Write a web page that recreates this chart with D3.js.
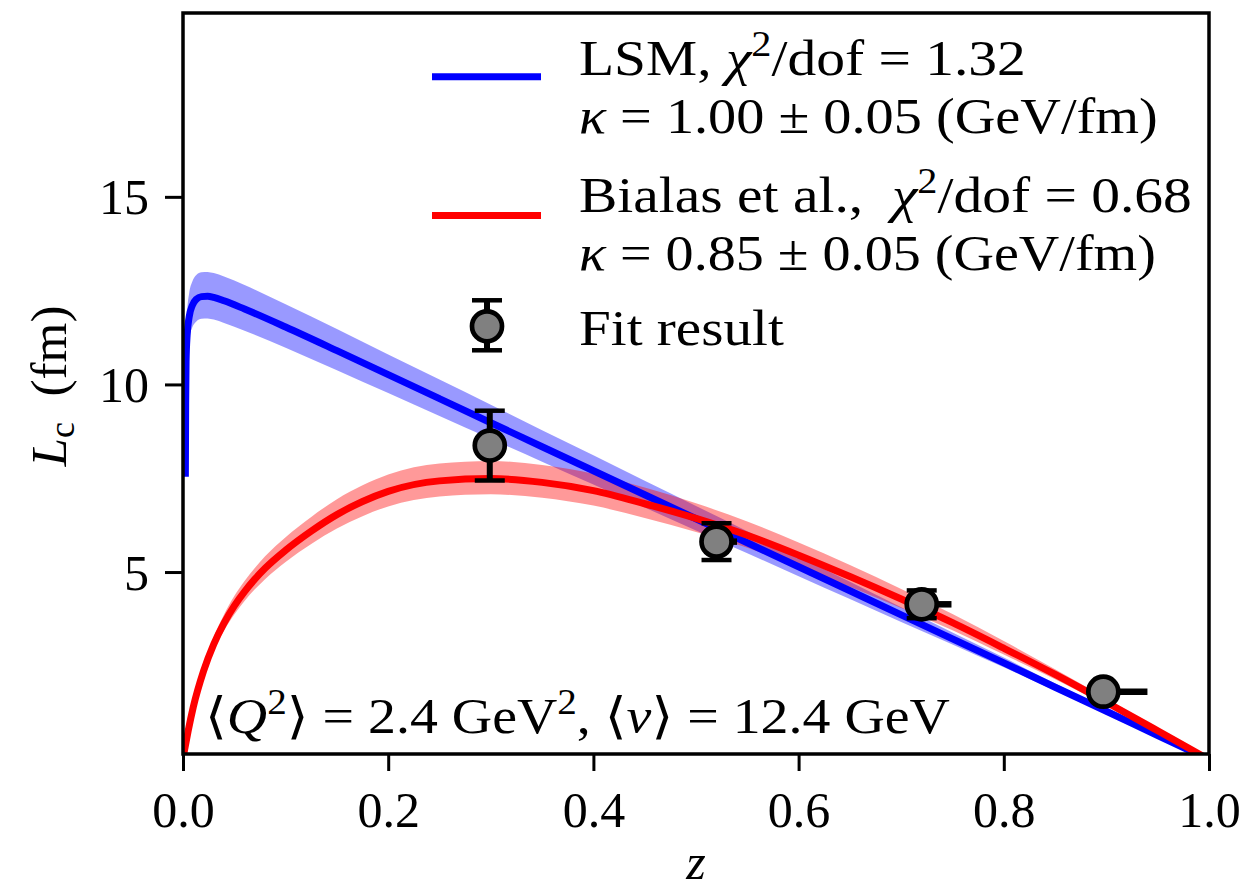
<!DOCTYPE html>
<html><head><meta charset="utf-8">
<script src="https://cdn.jsdelivr.net/npm/d3@7"></script>
<style>
html,body{margin:0;padding:0;background:#fff;}
text{font-family:"Liberation Serif","DejaVu Serif",serif;white-space:pre;}
</style></head>
<body>
<svg id="chart" width="1244" height="892"></svg>
<script>
// ---- data ----
const redZ  = [0,0.001,0.002,0.005,0.01,0.02,0.03,0.04,0.05,0.06,0.07,0.08,0.1,0.125,0.15,0.175,0.2,0.25,0.3,0.35,0.4,0.45,0.5,0.55,0.6,0.65,0.7,0.75,0.8,0.85,0.9,0.95,0.98,1.0];
const redL  = [0,0.18,0.33,0.76,1.40,2.36,3.08,3.64,4.10,4.48,4.81,5.10,5.58,6.09,6.53,6.88,7.15,7.43,7.49,7.39,7.17,6.82,6.43,5.98,5.45,4.88,4.28,3.65,2.97,2.27,1.53,0.77,0.31,0];
const redHi = [0,0.19,0.35,0.81,1.49,2.51,3.27,3.87,4.36,4.76,5.11,5.42,5.93,6.47,6.94,7.31,7.60,7.89,7.96,7.85,7.62,7.25,6.83,6.35,5.79,5.19,4.55,3.88,3.16,2.41,1.63,0.82,0.33,0];
const redLo = [0,0.17,0.31,0.72,1.32,2.23,2.91,3.44,3.87,4.23,4.54,4.81,5.27,5.75,6.16,6.49,6.75,7.01,7.07,6.98,6.77,6.44,6.07,5.65,5.14,4.61,4.04,3.45,2.80,2.14,1.44,0.73,0.29,0];

const blueZ  = [0.0023,0.0026,0.003,0.004,0.006,0.009,0.013,0.018,0.024,0.03,0.04,0.06,0.1,0.15,0.2,0.25,0.3,0.35,0.4,0.45,0.5,0.55,0.6,0.65,0.7,0.75,0.8,0.85,0.9,0.95,1.0];
const blueL  = [7.54,9.5,10.6,11.3,11.8,12.1,12.27,12.34,12.35,12.32,12.23,12.01,11.53,10.90,10.26,9.62,8.98,8.34,7.70,7.06,6.42,5.78,5.14,4.50,3.86,3.22,2.58,1.93,1.29,0.64,0];
const blueHi = [7.94,10.00,11.16,11.90,12.43,12.74,12.92,12.99,13.00,12.97,12.88,12.65,12.14,11.48,10.80,10.13,9.46,8.78,8.11,7.43,6.76,6.09,5.41,4.74,4.06,3.39,2.72,2.03,1.36,0.67,0];
const blueLo = [7.18,9.04,10.09,10.76,11.23,11.52,11.68,11.75,11.76,11.73,11.64,11.43,10.98,10.38,9.77,9.16,8.55,7.94,7.33,6.72,6.11,5.50,4.89,4.28,3.67,3.07,2.46,1.84,1.23,0.61,0];

const fitZ     = [0.299,0.520,0.720,0.897];
const fitL     = [8.37,5.81,4.14,1.81];
const fitYerr  = [0.93,0.49,0.37,0.10];
const fitXerrHi= [0,0.02,0.029,0.043];

const xTicks = [0,0.2,0.4,0.6,0.8,1.0];
const yTicks = [5,10,15];

// ---- layout ----
const svg = d3.select("#chart");
const L0=183, R0=1209, T0=13, B0=754;
const x = d3.scaleLinear().domain([0,1]).range([L0,R0]);
const y = d3.scaleLinear().domain([0.15,19.9]).range([B0,T0]);
const FS = 50;

svg.append("defs").append("clipPath").attr("id","clip")
  .append("rect").attr("x",L0).attr("y",T0).attr("width",R0-L0).attr("height",B0-T0);

const plot = svg.append("g").attr("clip-path","url(#clip)");

function series(zs, vs){ return zs.map((z,i)=>({z, v:vs[i]})); }
function band(zs, lo, hi){ return zs.map((z,i)=>({z, lo:lo[i], hi:hi[i]})); }

const area = d3.area().x(d=>x(d.z)).y0(d=>y(d.lo)).y1(d=>y(d.hi)).curve(d3.curveMonotoneX);
const line = d3.line().x(d=>x(d.z)).y(d=>y(d.v)).curve(d3.curveMonotoneX);

plot.append("path").attr("d", area(band(blueZ,blueLo,blueHi))).attr("fill","#0000ff").attr("fill-opacity",0.4);
plot.append("path").attr("d", area(band(redZ,redLo,redHi))).attr("fill","#ff0000").attr("fill-opacity",0.4);
plot.append("path").attr("d", line(series(blueZ,blueL))).attr("fill","none").attr("stroke","#0000ff").attr("stroke-width",7);
plot.append("path").attr("d", line(series(redZ,redL))).attr("fill","none").attr("stroke","#ff0000").attr("stroke-width",7);

// error bars + markers
const pts = fitZ.map((z,i)=>({z, v:fitL[i], ye:fitYerr[i], xe:fitXerrHi[i]}));
const eg = svg.append("g");
pts.forEach(p=>{
  const cx=x(p.z), cy=y(p.v);
  eg.append("line").attr("x1",cx).attr("x2",cx).attr("y1",y(p.v+p.ye)).attr("y2",y(p.v-p.ye)).attr("stroke","#000").attr("stroke-width",6);
  [p.v+p.ye, p.v-p.ye].forEach(v=>{
    eg.append("line").attr("x1",cx-15).attr("x2",cx+15).attr("y1",y(v)).attr("y2",y(v)).attr("stroke","#000").attr("stroke-width",4.5);
  });
  if(p.xe>0){
    eg.append("line").attr("x1",cx).attr("x2",x(p.z+p.xe)).attr("y1",cy).attr("y2",cy).attr("stroke","#000").attr("stroke-width",6.5);
  }
});
eg.selectAll("circle.m").data(pts).join("circle").attr("class","m")
  .attr("cx",d=>x(d.z)).attr("cy",d=>y(d.v)).attr("r",15)
  .attr("fill","#808080").attr("stroke","#000").attr("stroke-width",4.7);

// axes
const xAxis = svg.append("g").attr("transform",`translate(0,${B0})`)
  .call(d3.axisBottom(x).tickValues(xTicks).tickFormat(d3.format(".1f")).tickSize(17).tickPadding(20));
const yAxis = svg.append("g").attr("transform",`translate(${L0},0)`)
  .call(d3.axisLeft(y).tickValues(yTicks).tickFormat(d3.format("d")).tickSize(18).tickPadding(16));
[xAxis,yAxis].forEach(a=>{
  a.select(".domain").remove();
  a.selectAll(".tick line").attr("stroke","#000").attr("stroke-width",3);
  a.selectAll(".tick text").attr("fill","#000").style("font-family",'"Liberation Serif",serif').style("font-size",FS+"px");
});
xAxis.selectAll(".tick text").attr("dy","0.71em");
yAxis.selectAll(".tick text").attr("dy","0.34em");

svg.append("rect").attr("x",L0).attr("y",T0).attr("width",R0-L0).attr("height",B0-T0)
  .attr("fill","none").attr("stroke","#000").attr("stroke-width",3.5);

// rich text helper: text placed in a group, optionally stretched to a target width
function rich(parent, xx, yy, segs, fs, anchor, targetW){
  const g = parent.append("g").attr("transform",`translate(${xx},${yy})`);
  const t = g.append("text").attr("x",0).attr("y",0).attr("font-size",fs).attr("fill","#000");
  if(anchor) t.attr("text-anchor",anchor);
  let shift=0;
  segs.forEach(s=>{
    const ts = t.append("tspan").text(s.t);
    let target = 0;
    if(s.sup){ target = -0.38*fs; ts.attr("font-size",fs*0.7); }
    if(s.sub){ target = 0.15*fs; ts.attr("font-size",fs*0.7); }
    if(target!==shift){ ts.attr("dy", target-shift); shift=target; }
    if(s.i) ts.attr("font-style","italic");
  });
  if(targetW){
    const w = t.node().getBBox().width;
    if(w>0) g.attr("transform",`translate(${xx},${yy}) scale(${targetW/w},1)`);
  }
  return g;
}

// legend
const lg = svg.append("g");
lg.append("line").attr("x1",432).attr("x2",541).attr("y1",y(18.2)).attr("y2",y(18.2)).attr("stroke","#0000ff").attr("stroke-width",7);
lg.append("line").attr("x1",432).attr("x2",541).attr("y1",y(14.5)).attr("y2",y(14.5)).attr("stroke","#ff0000").attr("stroke-width",7);
const lmx=487, lmy=y(11.55);
lg.append("line").attr("x1",lmx).attr("x2",lmx).attr("y1",lmy-26).attr("y2",lmy+24).attr("stroke","#000").attr("stroke-width",6);
[lmy-26,lmy+24].forEach(v=>lg.append("line").attr("x1",lmx-15).attr("x2",lmx+15).attr("y1",v).attr("y2",v).attr("stroke","#000").attr("stroke-width",4.5));
lg.append("circle").attr("cx",lmx).attr("cy",lmy).attr("r",15).attr("fill","#808080").attr("stroke","#000").attr("stroke-width",4.7);

rich(lg,579,75,[{t:"LSM, "},{t:"χ",i:true},{t:"2",sup:true},{t:"/dof = 1.32"}],FS,null,447);
rich(lg,579,133,[{t:"κ",i:true},{t:" = 1.00 ± 0.05 (GeV/fm)"}],FS,null,579);
rich(lg,579,212,[{t:"Bialas et al.,  "},{t:"χ",i:true},{t:"2",sup:true},{t:"/dof = 0.68"}],FS,null,613);
rich(lg,579,270,[{t:"κ",i:true},{t:" = 0.85 ± 0.05 (GeV/fm)"}],FS,null,577);
rich(lg,579,345,[{t:"Fit result"}],FS,null,205);

// annotation
rich(svg,205,733,[{t:"⟨"},{t:"Q",i:true},{t:"2",sup:true},{t:"⟩ = 2.4 GeV"},{t:"2",sup:true},{t:", ⟨"},{t:"ν",i:true},{t:"⟩ = 12.4 GeV"}],FS,null,745);

// axis labels
rich(svg,(L0+R0)/2,879,[{t:"z",i:true}],FS,"middle");
const yl = svg.append("g").attr("transform","translate(66,386) rotate(-90)");
rich(yl,0,0,[{t:"L",i:true},{t:"c",sub:true},{t:"  (fm)"}],FS,"middle",162);
</script>
</body></html>
